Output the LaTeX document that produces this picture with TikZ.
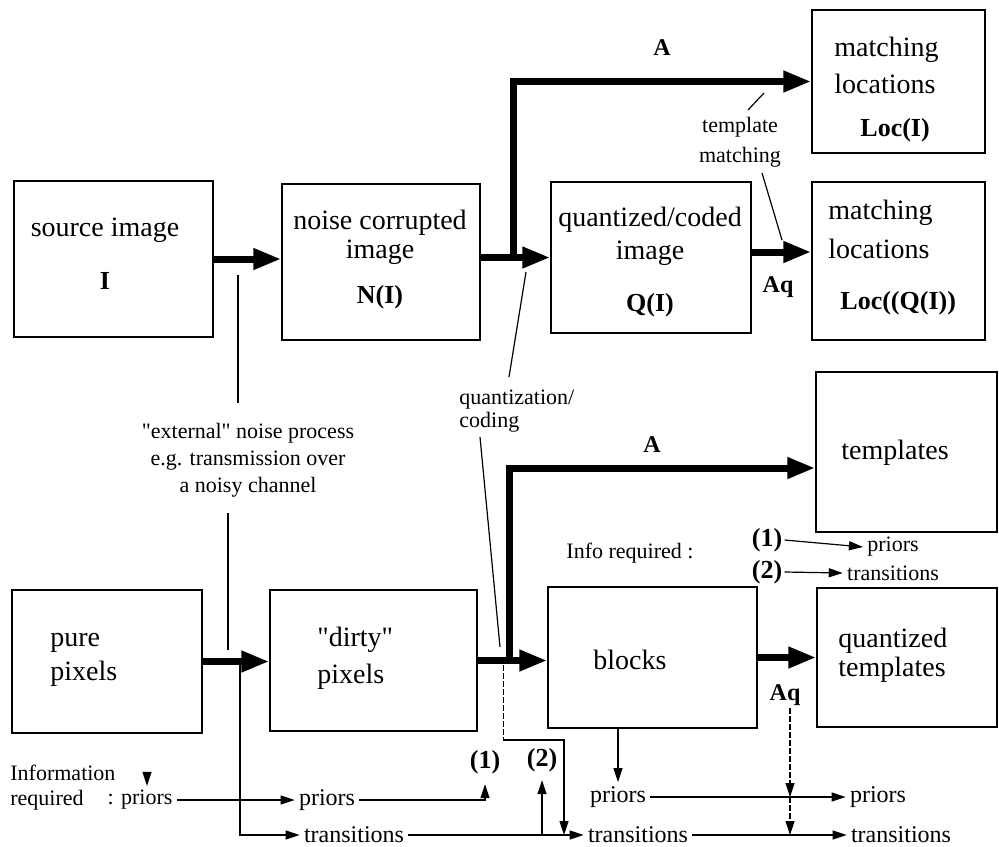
\documentclass[tikz,border=0pt]{standalone}
\usepackage{fontspec}
\setmainfont{Liberation Serif}
\usetikzlibrary{arrows.meta}
\newcommand\boldlab[1]{{\fontsize{13}{14.5}\selectfont\bfseries #1}}

\begin{document}
\begin{tikzpicture}[x=0.5pt, y=-0.5pt,
    box/.style={draw, line width=0.7pt, inner sep=0},
    txt/.style={font=\fontsize{14}{14.5}\selectfont, align=center, inner sep=0},
    small/.style={font=\fontsize{11}{15}\selectfont, align=center, inner sep=2pt},
    mid/.style={font=\fontsize{12}{14}\selectfont, inner sep=2pt},
    lbl/.style={font=\fontsize{12}{14}\selectfont\bfseries, inner sep=0},
    num/.style={font=\fontsize{13}{14}\selectfont\bfseries, inner sep=1pt},
    big/.style={line width=3.5pt, -{Triangle[length=14pt,width=10pt]}},
    arr/.style={line width=0.6pt, -{Triangle[length=7pt,width=4.5pt]}},
    lead/.style={line width=0.6pt},
    faint/.style={line width=0.5pt, dash pattern=on 3pt off 1pt}]
    \useasboundingbox (0,0) rectangle (999,846);

    % boxes
    \node[box, minimum width=99.5pt, minimum height=78pt] (src) at (113.5,259) {};
    \node[box, minimum width=99pt, minimum height=78pt] (noisy) at (381,262) {};
    \node[box, minimum width=100pt, minimum height=75.5pt] (quant) at (651,257.5) {};
    \node[box, minimum width=86.5pt, minimum height=71.5pt] (loc) at (898.5,81.5) {};
    \node[box, minimum width=86.5pt, minimum height=79pt] (locq) at (898.5,261) {};
    \node[box, minimum width=95pt, minimum height=71.5pt] (pure) at (107,661.5) {};
    \node[box, minimum width=103.5pt, minimum height=70.5pt] (dirty) at (373.5,660.5) {};
    \node[box, minimum width=104.5pt, minimum height=70.5pt] (blocks) at (652.5,657.5) {};
    \node[box, minimum width=90.5pt, minimum height=80pt] (templ) at (906.5,452) {};
    \node[box, minimum width=90pt, minimum height=69.5pt] (qtempl) at (907,657.5) {};

    % box texts
    \node[txt] (srcT) at (105,253.5) {source image\\[12pt]\boldlab{I}};
    \node[txt] (noisyT) at (380,260) {noise corrupted\\image\\[8pt]\boldlab{N(I)}};
    \node[txt] (quantT) at (650,262.5) {quantized/coded\\[2pt]image\\[11.5pt]\boldlab{Q(I)}};
    \node[txt, anchor=west, align=left] (locT) at (834,90) {matching\\[4pt]locations\\[7pt]\hspace*{13pt}\boldlab{Loc(I)}};
    \node[txt, anchor=west, align=left] (locqT) at (828,258) {matching\\[5pt]locations\\[11pt]\hspace*{6pt}\boldlab{Loc((Q(I))}};
    \node[txt, anchor=west, align=left] (pureT) at (50,660) {pure\\[2.5pt]pixels};
    \node[txt, anchor=west, align=left] (dirtyT) at (317,658.5) {\textquotedbl dirty\textquotedbl\\[4pt]pixels};
    \node[txt, anchor=west] (blocksT) at (593,660) {blocks};
    \node[txt] (templT) at (895,453) {templates};
    \node[txt, anchor=west, align=left] (qtemplT) at (838,655) {quantized\\templates};

    % labels
    \node[lbl] (aTop) at (662,48) {A};
    \node[lbl] (aqTop) at (778,287) {Aq};
    \node[lbl] (aBot) at (652,445) {A};
    \node[lbl] (aqBot) at (785,695) {Aq};
    \node[small] (tmT) at (740,142) {template\\matching};
    \node[small, anchor=west, align=left, font=\fontsize{11}{11.5}\selectfont] (qcT) at (455,411.5) {quantization/\\coding};
    \node[small, font=\fontsize{11}{13.5}\selectfont] (extT) at (248,460) {\textquotedbl external\textquotedbl{} noise process\\e.g. transmission over\\a noisy channel};
    \node[small, anchor=west, align=left, font=\fontsize{11}{12.5}\selectfont] (infoT) at (6,787.5) {Information\\required};
    \node[small] (pA) at (140,800) {: priors};
    \node[small] (iq) at (630,553) {Info required :};
    \node[num] (n1t) at (767,540) {(1)};
    \node[num] (n2t) at (767,572) {(2)};
    \node[small] (pT) at (893,547) {priors};
    \node[small] (tT) at (893,573) {transitions};
    \node[num] (n1) at (485,762) {(1)};
    \node[num] (n2) at (542,760) {(2)};
    \node[mid] (p1) at (327,800) {priors};
    \node[mid] (t1) at (354,835) {transitions};
    \node[mid] (p2) at (618,797) {priors};
    \node[mid] (t2) at (638,835) {transitions};
    \node[mid] (p3) at (878,797) {priors};
    \node[mid] (t3) at (901,835) {transitions};

    % main flow
    \coordinate (qsplit) at (513,257.5);
    \coordinate (bsplit) at (509,660);
    \draw[big] (src.east) -- (src.east -| noisy.west);
    \draw[big] (noisy.east |- quant.west) -- (quant.west);
    \draw[big] (qsplit) |- (loc.west);
    \draw[big] ([yshift=2.75pt]quant.east) -- ([yshift=2.75pt]quant.east -| locq.west);
    \draw[big] (pure.east) -- (pure.east -| dirty.west);
    \draw[big] (dirty.east) -- (dirty.east -| blocks.west);
    \draw[big] (bsplit) |- ([yshift=-8pt]templ.west);
    \draw[big] (blocks.east) -- (blocks.east -| qtempl.west);

    % leader lines
    \coordinate (e1) at (238,275); \coordinate (e2) at (238,403);
    \coordinate (e3) at (228,513); \coordinate (e4) at (228,650);
    \coordinate (q1) at (526,272); \coordinate (q2) at (509,377);
    \coordinate (q3) at (480,437); \coordinate (q4) at (500,647);
    \coordinate (m1) at (748,110); \coordinate (m2) at (764,93);
    \coordinate (m3) at (762,173); \coordinate (m4) at (782,240);
    \draw[lead] (e1) -- (e2);
    \draw[lead] (e3) -- (e4);
    \draw[lead] (q1) -- (q2);
    \draw[lead] (q3) -- (q4);
    \draw[lead] (m1) -- (m2);
    \draw[lead] (m3) -- (m4);

    % information required
    \coordinate (pj) at (240,661.5);
    \coordinate (i1) at (147,776);
    \coordinate (d1) at (503,665); \coordinate (d2) at (503,740);
    \coordinate (d3) at (564,835);
    \coordinate (a1) at (790,708);
    \draw[arr] (i1) -- (i1 |- pA.north);
    \draw[arr] (pj) |- (t1.west);
    \draw[arr] (pA.east) -- (p1.west);
    \draw[arr] (p1.east) -| ([yshift=-4pt]n1.south);
    \draw[arr] (t1.east) -- (t2.west);
    \draw[arr] (t1.east -| n2.south) -- ([yshift=-3pt]n2.south);
    \draw[faint] (d1) -- (d2);
    \draw[arr] (d2) -| (d3);
    \draw[arr] (blocks.south -| p2.north) -- (p2.north);
    \draw[arr] (p2.east) -- (p3.west);
    \draw[arr] (t2.east) -- (t3.west);
    \draw[faint, arr] (a1) -- (a1 |- p3.west);
    \draw[faint, arr] (a1 |- p3.west) -- (a1 |- t3.west);
    \draw[arr] (n1t.east) -- (pT.west);
    \draw[arr] (n2t.east) -- (tT.west);
\end{tikzpicture}
\end{document}
